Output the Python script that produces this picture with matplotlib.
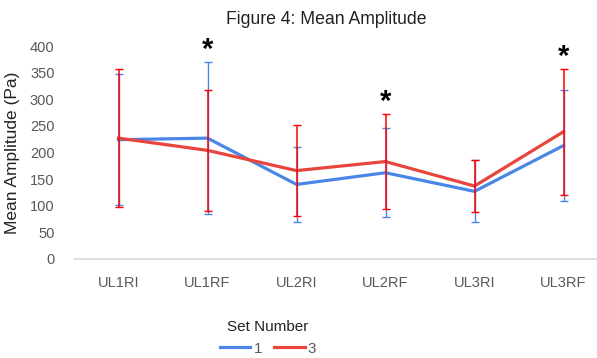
import matplotlib.pyplot as plt
import numpy as np

# Data ###################################################
categories = ['UL1RI', 'UL1RF', 'UL2RI', 'UL2RF', 'UL3RI', 'UL3RF']

set1_mean = [224, 227, 140, 162, 127, 213]
set1_err = [123, 143, 71, 84, 58, 104]

set3_mean = [227, 204, 166, 183, 137, 239]
set3_err = [130, 113, 85, 90, 48, 118]

# categories marked as significant
significant = ['UL1RF', 'UL2RF', 'UL3RF']

# Style ##################################################
plt.rcParams['font.family'] = ['Liberation Sans', 'DejaVu Sans']
blue = '#4a86e8'
red = '#e8453c'
blue_err = '#4a86e8'
red_err = '#ff0000'
grey = '#595959'

fig = plt.figure(figsize=(5.97, 3.58), dpi=100)
ax = fig.add_axes([74 / 597, 99 / 358, 523 / 597, 213 / 358])

x = np.arange(len(categories))

# lines
ax.plot(x, set1_mean, color=blue, linewidth=2.3, label='1', zorder=3,
        solid_joinstyle='miter')
ax.plot(x, set3_mean, color=red, linewidth=2.3, label='3', zorder=4,
        solid_joinstyle='miter')

# error bars
ax.errorbar(x, set1_mean, yerr=set1_err, fmt='none', ecolor=blue_err,
            elinewidth=1, capsize=3.1, capthick=1, zorder=5)
ax.errorbar(x, set3_mean, yerr=set3_err, fmt='none', ecolor=red_err,
            elinewidth=1.1, capsize=3.1, capthick=1, zorder=6)

# asterisks above the highest bar
for cat in significant:
    i = categories.index(cat)
    top = max(set1_mean[i] + set1_err[i], set3_mean[i] + set3_err[i])
    ax.text(i, top + 22, '*', ha='center', va='center', fontsize=21,
            fontweight='bold', color='black', zorder=7)

# axes
ax.set_xlim(-0.5, -0.5 + 523 / 89)
ax.set_ylim(0, 400)
ax.set_yticks(np.arange(0, 401, 50))
ax.set_xticks(x)
ax.set_xticklabels(categories)
ax.tick_params(axis='both', length=0, labelsize=10.5, labelcolor=grey)
ax.tick_params(axis='y', pad=14)
ax.tick_params(axis='x', pad=12)

for s in ['top', 'right', 'left']:
    ax.spines[s].set_visible(False)
ax.spines['bottom'].set_color('#d9d9d9')
ax.spines['bottom'].set_linewidth(1.2)

ax.set_ylabel('Mean Amplitude (Pa)', fontsize=12.5, color='#222222')
ax.yaxis.set_label_coords(-54 / 523, 0.5)

fig.text(326 / 597, 1 - 20 / 358, 'Figure 4: Mean Amplitude', ha='center',
         va='center', fontsize=12.7, color='#222222')

leg = fig.legend(loc='center', bbox_to_anchor=(268 / 597, 1 - 338 / 358),
                 ncol=2, frameon=False, title='Set Number', fontsize=11,
                 title_fontsize=11, handlelength=2.0, handletextpad=0.2,
                 columnspacing=0.8)
leg.get_title().set_color('#222222')
for t in leg.get_texts():
    t.set_color(grey)

fig.savefig('out.png', dpi=100)
